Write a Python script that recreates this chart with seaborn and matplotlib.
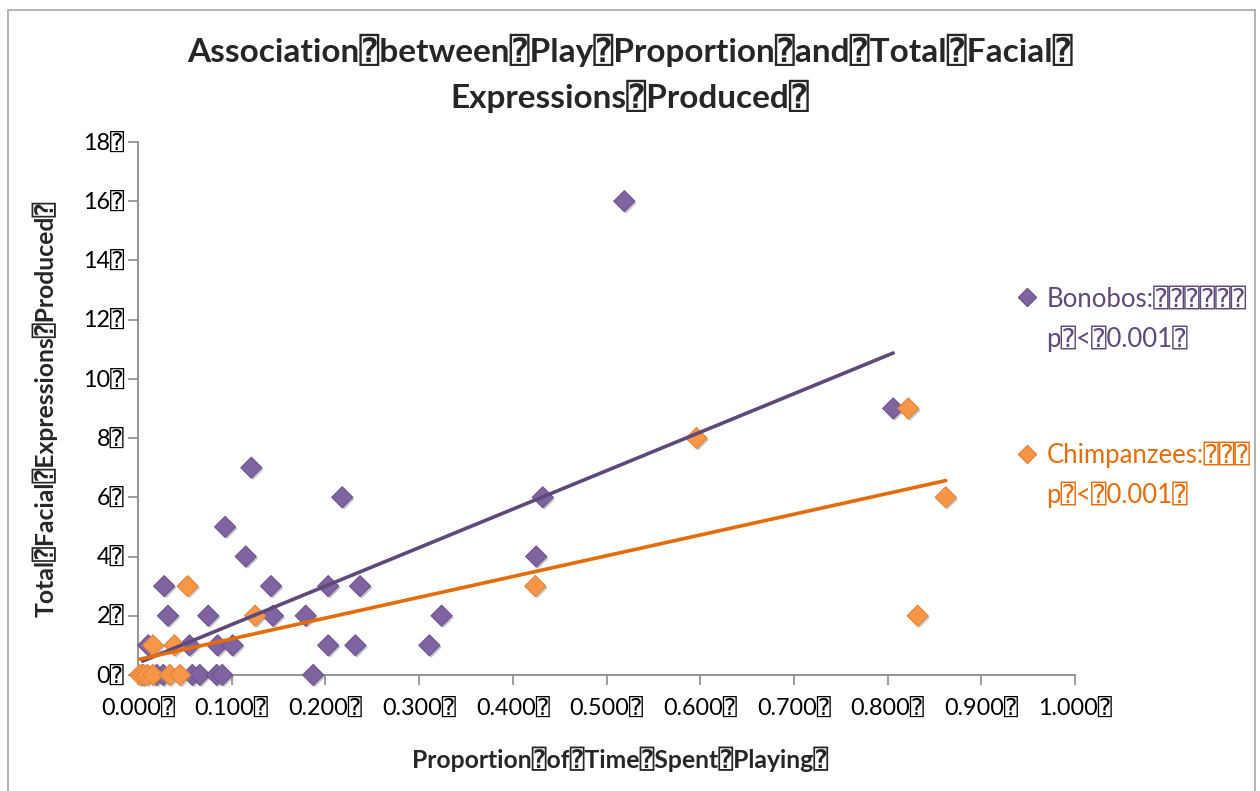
import matplotlib
matplotlib.use("Agg")
import matplotlib.pyplot as plt
import matplotlib.patheffects as pe
from matplotlib.lines import Line2D
from matplotlib.patches import Rectangle
import seaborn as sns
import pandas as pd

# ---------------- data ----------------
bonobo_x = [0.005, 0.020, 0.027, 0.058, 0.066, 0.084, 0.090, 0.187,
            0.011, 0.055, 0.085, 0.101, 0.203, 0.232, 0.311,
            0.032, 0.075, 0.144, 0.179, 0.324,
            0.028, 0.142, 0.203, 0.237,
            0.115, 0.425,
            0.093,
            0.218, 0.432,
            0.121,
            0.806,
            0.519]
bonobo_y = [0, 0, 0, 0, 0, 0, 0, 0,
            1, 1, 1, 1, 1, 1, 1,
            2, 2, 2, 2, 2,
            3, 3, 3, 3,
            4, 4,
            5,
            6, 6,
            7,
            9,
            16]
chimp_x = [0.002, 0.006, 0.010, 0.016, 0.034, 0.045,
           0.016, 0.039,
           0.125, 0.832,
           0.053, 0.424,
           0.862,
           0.596,
           0.822]
chimp_y = [0, 0, 0, 0, 0, 0,
           1, 1,
           2, 2,
           3, 3,
           6,
           8,
           9]
species = ["Bonobos", "Chimpanzees"]

x_ticks = [0.0, 0.1, 0.2, 0.3, 0.4, 0.5, 0.6, 0.7, 0.8, 0.9, 1.0]
x_tick_labels = ["0.000⍰", "0.100⍰", "0.200⍰", "0.300⍰", "0.400⍰", "0.500⍰",
                 "0.600⍰", "0.700⍰", "0.800⍰", "0.900⍰", "1.000⍰"]
y_ticks = [0, 2, 4, 6, 8, 10, 12, 14, 16, 18]
y_tick_labels = ["0⍰", "2⍰", "4⍰", "6⍰", "8⍰", "10⍰", "12⍰", "14⍰", "16⍰", "18⍰"]

title_text = "Association⍰between⍰Play⍰Proportion⍰and⍰Total⍰Facial⍰\nExpressions⍰Produced⍰"
x_label = "Proportion⍰of⍰Time⍰Spent⍰Playing⍰"
y_label = "Total⍰Facial⍰Expressions⍰Produced⍰"
bonobo_legend = ["Bonobos:" + "⍰" * 6, "p⍰<⍰0.001⍰"]
chimp_legend = ["Chimpanzees:" + "⍰" * 3, "p⍰<⍰0.001⍰"]

marker_colors = {"Bonobos": "#8064A2", "Chimpanzees": "#F79646"}
edge_colors = {"Bonobos": "#6E5290", "Chimpanzees": "#E5843A"}
line_colors = {"Bonobos": "#5F497A", "Chimpanzees": "#E46C0A"}

df = pd.DataFrame({
    "x": bonobo_x + chimp_x,
    "y": bonobo_y + chimp_y,
    "species": [species[0]] * len(bonobo_x) + [species[1]] * len(chimp_x),
})

# ---------------- style ----------------
sns.set_style("white")
FAM = ["Lato", "DejaVu Sans", "DejaVu Sans Mono"]
plt.rcParams["font.family"] = FAM

fig = plt.figure(figsize=(12.6, 7.91), dpi=100)
ax = fig.add_axes([0.1095, 0.1467, 0.7437, 0.6738])

shadow = [pe.SimplePatchShadow(offset=(1.3, -1.3), shadow_rgbFace="#808080", alpha=0.45), pe.Normal()]

for sp in species:
    sub = df[df["species"] == sp]
    sns.scatterplot(data=sub, x="x", y="y", ax=ax, marker="D", s=115,
                    color=marker_colors[sp], edgecolor=edge_colors[sp], linewidth=0.8,
                    clip_on=False, zorder=3, legend=False)
for coll in ax.collections:
    coll.set_path_effects(shadow)

for sp in species:
    sub = df[df["species"] == sp]
    sns.regplot(data=sub, x="x", y="y", ax=ax, scatter=False, ci=None, truncate=True,
                line_kws={"color": line_colors[sp], "lw": 2.6, "zorder": 4,
                          "solid_capstyle": "round"})

ax.set_xlim(0, 1.0)
ax.set_ylim(0, 18)
ax.set_xticks(x_ticks, x_tick_labels)
ax.set_yticks(y_ticks, y_tick_labels)
for lab in ax.get_xticklabels() + ax.get_yticklabels():
    lab.set_fontsize(16.8)
    lab.set_color("black")
ax.tick_params(axis="x", direction="out", length=7, width=1.2, color="#8C8C8C", pad=10)
ax.tick_params(axis="y", direction="out", length=7, width=1.2, color="#8C8C8C", pad=3)
ax.tick_params(bottom=True, left=True)

for s in ["top", "right"]:
    ax.spines[s].set_visible(False)
for s in ["left", "bottom"]:
    ax.spines[s].set_color("#8C8C8C")
    ax.spines[s].set_linewidth(1.3)
ax.grid(False)

ax.set_xlabel(x_label, fontsize=17.8, fontweight="bold")
ax.set_ylabel(y_label, fontsize=17.8, fontweight="bold")
ax.xaxis.set_label_coords(0.514, -0.134)
ax.yaxis.set_label_coords(-0.086, 0.5)

fig.text(0.5, 0.907, title_text, ha="center", va="center", fontsize=24,
         fontweight="bold", linespacing=1.45)

# legends (one per series, marker aligned with first line)
def add_legend(labels, sp, top):
    handles = [Line2D([], [], marker="D", ls="none", markersize=9,
                      markerfacecolor=marker_colors[sp], markeredgecolor=edge_colors[sp]),
               Line2D([], [], ls="none", marker=None)]
    leg = fig.legend(handles, labels, loc="upper left", bbox_to_anchor=(0.809, top),
                     frameon=False, fontsize=18.5, handlelength=0.6, handletextpad=0.45,
                     labelspacing=0.55, borderpad=0, borderaxespad=0)
    for t in leg.get_texts():
        t.set_color(line_colors[sp])
    return leg

add_legend(bonobo_legend, "Bonobos", 0.638)
add_legend(chimp_legend, "Chimpanzees", 0.442)

# outer chart frame
fig.patches.append(Rectangle((0.0063, -0.05), 0.9897, 1.037, transform=fig.transFigure,
                             fill=False, edgecolor="#A6A6A6", lw=1.2, clip_on=False))

fig.savefig("out.png", dpi=100)
